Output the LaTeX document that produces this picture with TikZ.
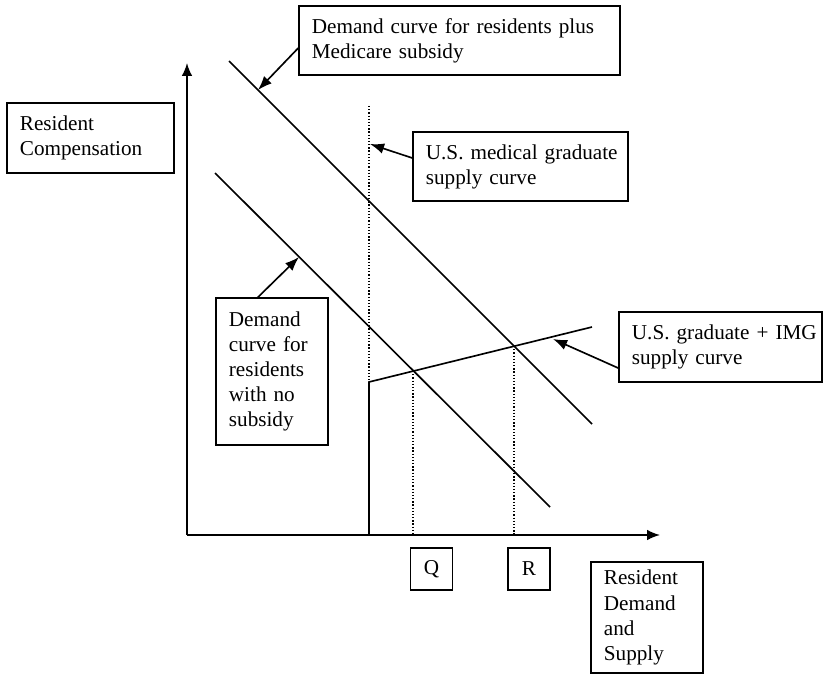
\documentclass[tikz,border=0pt]{standalone}
\usepackage{fontspec}
\setmainfont{Liberation Serif}
\usetikzlibrary{arrows.meta}
\hyphenpenalty=10000
\exhyphenpenalty=10000

\tikzset{
  box/.style={draw, line width=1.2pt, align=left, inner xsep=11pt, inner ysep=0pt,
    font=\fontsize{18}{21.3}\selectfont\frenchspacing},
  tick/.style={draw, line width=1.2pt, inner sep=0pt, minimum width=36pt, minimum height=35.7pt,
    font=\fontsize{18}{21.3}\selectfont},
  curve/.style={line width=1.4pt},
  guide/.style={line width=1.1pt, dash pattern=on 1.1pt off 1.6pt},
  pointer/.style={line width=1.4pt, -{Latex[length=12pt,width=9pt]}}
}

\begin{document}
\begin{tikzpicture}[x=0.85pt, y=-0.85pt]
\useasboundingbox (0,0) rectangle (824,675);

% axes
\coordinate (O) at (187,535);
\draw[curve, -{Latex[length=11pt,width=9pt]}] (O) -- (187,63);
\draw[curve, -{Latex[length=11pt,width=9pt]}] (O) -- (660,535);

% demand curves
\draw[curve] (229,61) -- (592,424);
\draw[curve] (215,173) -- (550,507);
\coordinate (dhigh) at (258,90);
\coordinate (dlow) at (299,257);

% supply curves
\draw[guide] (369,106) -- (369,382);
\draw[curve] (369,535) -- (369,382) -- (592,327);
\coordinate (smed) at (370,144);
\coordinate (simg) at (553,339);

% equilibria
\coordinate (q) at (413,371);
\coordinate (r) at (514,346);
\draw[guide] (q) -- (q |- O);
\draw[guide] (r) -- (r |- O);

% labels
\node[box, minimum width=272.9pt, minimum height=58.7pt, text width=250.9pt] (subsidy)
  at (459.5,40.5) {Demand curve for residents plus\\Medicare subsidy};
\node[box, minimum width=142pt, minimum height=59.5pt, text width=120pt] (rescomp)
  at (90.5,138) {Resident\\Compensation};
\node[box, minimum width=182.8pt, minimum height=58.7pt, text width=160.8pt] (usmed)
  at (520.5,166.5) {U.S.~medical~graduate\\supply curve};
\node[box, minimum width=95.2pt, minimum height=125pt, text width=73.2pt] (nosub)
  at (272,371.5) {Demand\\curve~for\\residents\\with~no\\subsidy};
\node[box, minimum width=172.6pt, minimum height=59.5pt, text width=150.6pt] (img)
  at (720.5,347) {U.S.~graduate~+~IMG\\supply curve};
\node[box, minimum width=95.2pt, minimum height=94.4pt, text width=73.2pt] (resds)
  at (647,617.5) {Resident\\Demand\\and\\Supply};
\node[tick] (qlabel) at (431.5,569) {Q};
\node[tick] (rlabel) at (529,569) {R};

% pointers
\draw[pointer] ([yshift=-6.4pt]subsidy.west) -- (dhigh);
\draw[pointer] ([yshift=7.2pt]usmed.west) -- (smed);
\draw[pointer] ([xshift=-12pt]nosub.north) -- (dlow);
\draw[pointer] ([yshift=-17.9pt]img.west) -- (simg);
\end{tikzpicture}
\end{document}
